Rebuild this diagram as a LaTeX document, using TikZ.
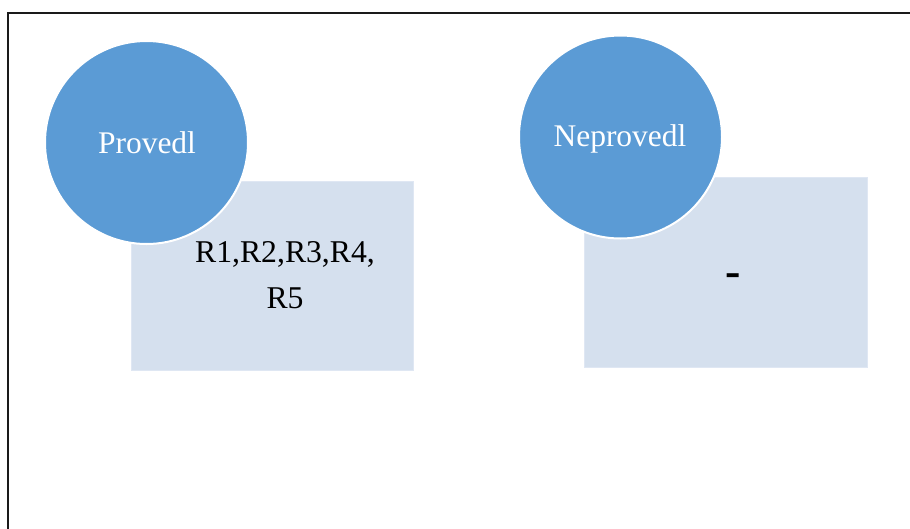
\documentclass[tikz,border=0pt]{standalone}
\usepackage{fontspec}
\setmainfont{Liberation Serif}
\definecolor{accentblue}{HTML}{5B9BD5}
\definecolor{paleblue}{HTML}{D5E0EE}
\definecolor{paleedge}{HTML}{DFE7F3}
\definecolor{framegray}{HTML}{1A1A1A}
\begin{document}
\begin{tikzpicture}[x=1pt,y=-1pt,
  infobox/.style={fill=paleblue,draw=paleedge,line width=1pt},
  bubble/.style={circle,fill=accentblue,draw=white,line width=2pt,inner sep=0pt},
  bubbletext/.style={anchor=base,text=white,inner sep=0pt,font=\fontsize{31.5}{36}\selectfont},
  boxtext/.style={anchor=base,text=black,inner sep=0pt,font=\fontsize{31.7}{36}\selectfont}]
  \useasboundingbox (0,0) rectangle (910,528);
  \begin{scope}
    \clip (0,0) rectangle (910,528);
    % outer frame (runs past the right and bottom edges)
    \draw[framegray,line width=1.9pt] (8,540) -- (8,13) -- (925,13);
  \end{scope}

  % left group
  \draw[infobox] (131,181) rectangle (413,370);
  \node[bubble,minimum size=203pt] (proved) at (146.5,142.5) {};
  \node[bubbletext] (provedlabel) at (147,153) {Provedl};
  \node[boxtext] (listA) at (285,262) {R1,R2,R3,R4,};
  \node[boxtext] (listB) at (285,308) {R5};

  % right group
  \draw[infobox] (584,177) rectangle (867,367);
  \node[bubble,minimum size=203pt] (notproved) at (620.5,137) {};
  \node[bubbletext] (notprovedlabel) at (620,146) {Neprovedl};
  \node[boxtext,font=\bfseries\fontsize{46}{50}\selectfont] (none) at (733,286) {-};
\end{tikzpicture}
\end{document}
